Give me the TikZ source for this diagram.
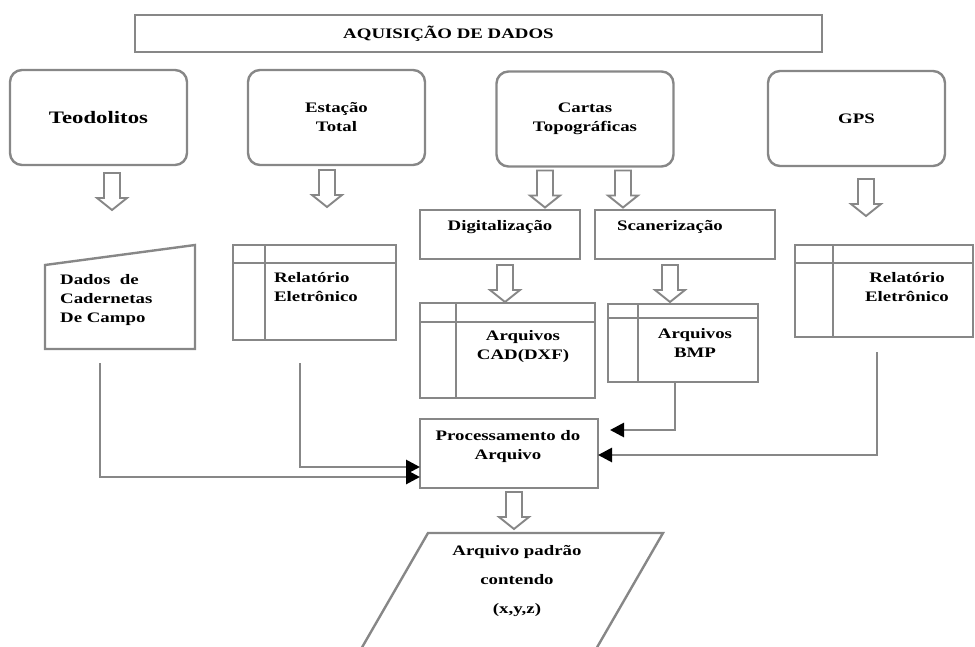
\documentclass[tikz,border=0pt]{standalone}
\usepackage{fontspec}
\setmainfont{Liberation Serif}[FakeStretch=1.3]
\usetikzlibrary{calc,arrows.meta}
\definecolor{cinza}{RGB}{135,135,135}
\tikzset{
  caixa/.style={draw=cinza,line width=2.4pt,outer sep=0pt,inner sep=0pt},
  arredondada/.style={caixa,rounded corners=12pt,minimum width=177pt,minimum height=95pt},
  armazem/.style 2 args={caixa,path picture={
      \draw[cinza,line width=2.4pt] ([yshift=-#2pt]path picture bounding box.north west) -- ([yshift=-#2pt]path picture bounding box.north east);
      \draw[cinza,line width=2.4pt] ([xshift=#1pt]path picture bounding box.north west) -- ([xshift=#1pt]path picture bounding box.south west);}},
  texto/.style={font=\fontsize{14.5}{19}\selectfont\bfseries,align=center,inner sep=0pt},
  ligacao/.style={draw=cinza,line width=2.8pt,-{Triangle[color=black,length=14pt,width=14pt]}},
  seta/.pic={\draw[cinza,line width=1.9pt,fill=white] (-8,0) -- (-8,25) -- (-15,25) -- (0,37) -- (15,25) -- (8,25) -- (8,0) -- cycle;}
}
\begin{document}
\begin{tikzpicture}[x=1pt,y=-1pt]
  \useasboundingbox (0,0) rectangle (975,646);
  \clip (0,0) rectangle (975,646);

  % titulo
  \node[caixa,line width=2.8pt,minimum width=687pt,minimum height=37pt,texto] (titulo) at (478.5,33.5) {AQUISIÇÃO DE DADOS\hspace*{60pt}};

  % fontes
  \node[arredondada,texto,font=\fontsize{17.5}{20}\selectfont\bfseries] (teo) at (98.5,117.5) {Teodolitos};
  \node[arredondada,texto] (est) at (336.5,117.5) {Estação\\Total};
  \node[arredondada,texto] (cartas) at (585,119) {Cartas\\Topográficas};
  \node[arredondada,texto] (gps) at (856.5,118.5) {GPS};

  % segunda linha
  \node[minimum width=150pt,minimum height=104pt,outer sep=0pt] (dados) at (120,297) {};
  \draw[caixa] ([yshift=-20pt]dados.north west) -- (dados.north east) -- (dados.south east) -- (dados.south west) -- cycle;
  \node[texto,align=left,anchor=north west] (tdados) at (60,274) {Dados\ \ de\\Cadernetas\\De Campo};

  \node[armazem={32}{18},minimum width=163pt,minimum height=95pt] (rel1) at (314.5,292.5) {};
  \node[texto,align=left] (trel1) at (316,287.5) {Relatório\\Eletrônico};

  \node[caixa,minimum width=160pt,minimum height=49pt] (digit) at (500,234.5) {};
  \node[texto] (tdigit) at (500,227) {Digitalização};
  \node[caixa,minimum width=180pt,minimum height=49pt] (scan) at (685,234.5) {};
  \node[texto] (tscan) at (670,227) {Scanerização};

  \node[armazem={36}{19},minimum width=175pt,minimum height=95pt] (cad) at (507.5,350.5) {};
  \node[texto] (tcad) at (523,347) {Arquivos\\CAD(DXF)};
  \node[armazem={30}{14},minimum width=150pt,minimum height=78pt] (bmp) at (683,343) {};
  \node[texto] (tbmp) at (695,342.5) {Arquivos\\BMP};
  \node[armazem={38}{18},minimum width=178pt,minimum height=92pt] (rel2) at (884,291) {};
  \node[texto] (trel2) at (907,287.5) {Relatório\\Eletrônico};

  % processamento
  \node[caixa,minimum width=178pt,minimum height=69pt] (proc) at (509,453.5) {};
  \node[texto] (tproc) at (508,447) {Processamento do\\Arquivo};

  % saida
  \coordinate (padrao) at (428,533);
  \draw[caixa] (padrao) -- ++(235,0) -- ++(-75,130) -- ++(-235,0) -- cycle;
  \node[texto,font=\fontsize{14.5}{29}\selectfont\bfseries] (tpadrao) at (517,581) {Arquivo padrão\\contendo\\(x,y,z)};

  % setas de bloco
  \pic at ($(teo.south)+(13.5,8)$) {seta};
  \pic at ($(est.south)+(-9.5,5)$) {seta};
  \pic at ($(cartas.south)+(-40,4)$) {seta};
  \pic at ($(cartas.south)+(38,4)$) {seta};
  \pic at ($(gps.south)+(9.5,13)$) {seta};
  \pic at ($(digit.south)+(5,6)$) {seta};
  \pic at ($(scan.south)+(-15,6)$) {seta};
  \pic at ($(proc.south)+(5,4)$) {seta};

  % ligacoes
  \draw[ligacao] ($(dados.south)+(-20,14)$) |- ($(proc.west)+(0,23.5)$);
  \draw[ligacao] ($(rel1.south)+(-14.5,23)$) |- ($(proc.west)+(0,13.5)$);
  \draw[ligacao] ($(bmp.south)+(-8,0)$) |- ($(proc.east)+(12,-23.5)$);
  \draw[ligacao] ($(rel2.south)+(-7,15)$) |- ($(proc.east)+(0,1.5)$);
\end{tikzpicture}
\end{document}
